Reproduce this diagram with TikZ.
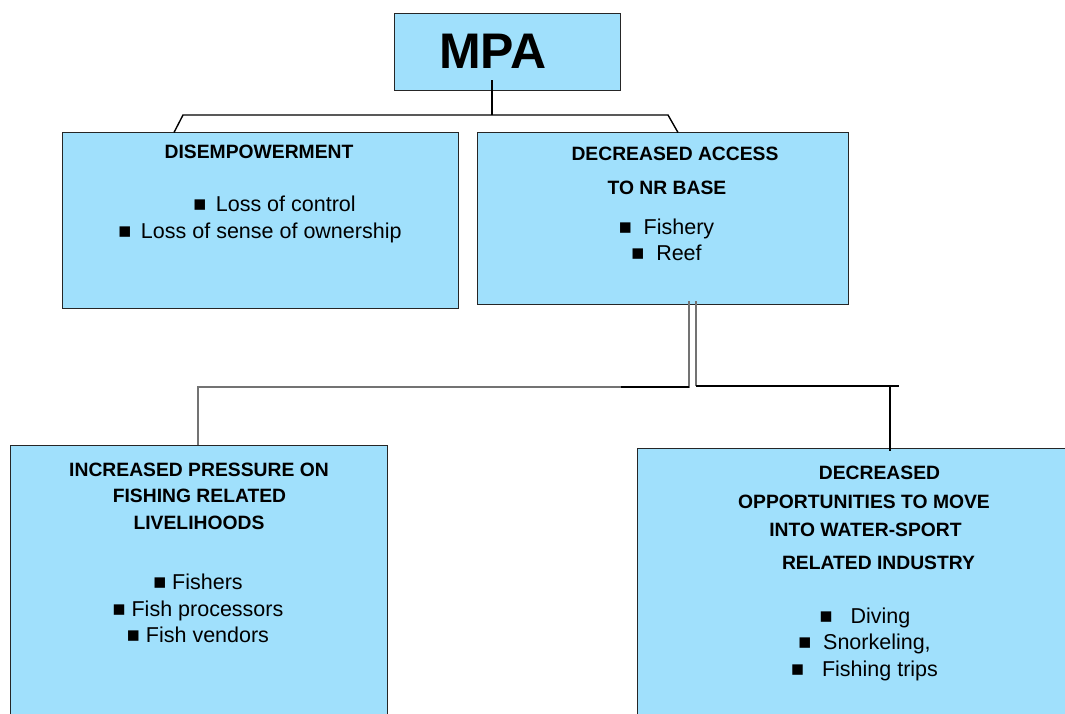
\documentclass[tikz,border=0pt]{standalone}
\usepackage{fontspec}
\setmainfont{Liberation Sans}
\definecolor{boxblue}{RGB}{160,224,252}
\begin{document}
\begin{tikzpicture}[x=1pt,y=-1pt,
  box/.style={draw=black!85,line width=1pt,fill=boxblue,rectangle,inner sep=0pt},
  head/.style={anchor=base,inner sep=0pt,font=\fontsize{19.3}{21}\selectfont\bfseries},
  item/.style={anchor=base,inner sep=0pt,font=\fontsize{21.5}{23}\selectfont},
  conn/.style={line width=1.4pt,black},
  gconn/.style={line width=1.2pt,black!55}]
\useasboundingbox (0,0) rectangle (1065,713);
\clip (0,0) rectangle (1065,713);
% boxes
\node[box,minimum width=226pt,minimum height=77pt] (mpa) at (507,51.5) {};
\node[box,minimum width=396pt,minimum height=176pt] (dis) at (260,220) {};
\node[box,minimum width=371pt,minimum height=172pt] (acc) at (662.5,218) {};
\node[box,minimum width=377pt,minimum height=280pt] (pre) at (198.5,585) {};
\node[box,minimum width=432pt,minimum height=280pt] (opp) at (853,588) {};
% texts
\node[anchor=base,inner sep=0pt,font=\fontsize{50}{52}\selectfont\bfseries] (mpat) at (493,68) {MPA};
\node[head] (dis1) at (259,158) {DISEMPOWERMENT};
\node[item] (dis2) at (274.5,211) {■ \,Loss of control};
\node[item] (dis3) at (260,238) {■ \,Loss of sense of ownership};
\node[head] (acc1) at (675,160) {DECREASED ACCESS};
\node[head] (acc2) at (667,194) {TO NR BASE};
\node[item] (acc3) at (666.5,234) {■ \ Fishery};
\node[item] (acc4) at (666.5,260) {■ \ Reef};
\node[head] (pre1) at (199,476) {INCREASED PRESSURE ON};
\node[head] (pre2) at (199.5,502) {FISHING RELATED};
\node[head] (pre3) at (199,529) {LIVELIHOODS};
\node[item] (pre4) at (198,589) {■ Fishers};
\node[item] (pre5) at (198,616) {■ Fish processors};
\node[item] (pre6) at (198,642) {■ Fish vendors};
\node[head] (opp1) at (879.5,479) {DECREASED};
\node[head] (opp2) at (864,508) {OPPORTUNITIES TO MOVE};
\node[head] (opp3) at (865.5,536) {INTO WATER-SPORT};
\node[head] (opp4) at (878.5,569) {RELATED INDUSTRY};
\node[item] (opp5) at (865,623) {■ \ \ Diving};
\node[item] (opp6) at (864.5,649) {■ \ Snorkeling,};
\node[item] (opp7) at (864.5,676) {■ \ \ Fishing trips};
% connectors
\coordinate (mpain) at (492,80);
\coordinate (hl) at (183,115);
\coordinate (hr) at (668,115);
\coordinate (dtop) at (174,132.5);
\coordinate (atop) at (678,132.5);
\draw[conn] (mpain) -- (mpain |- hl);
\draw[conn] (dtop) -- (hl) -- (hr) -- (atop);
\coordinate (a1) at (689,301);
\coordinate (a2) at (696,301);
\coordinate (c1) at (689,387);
\coordinate (c2) at (696,386);
\coordinate (cm) at (621,387);
\coordinate (pl) at (198,387);
\coordinate (ptop) at (198,445);
\coordinate (rend) at (899,386);
\coordinate (oj) at (890,386);
\coordinate (otop) at (890,451);
\draw[gconn] (a1) -- (c1) -- (pl) -- (ptop);
\draw[gconn] (a2) -- (c2);
\draw[conn] (c2) -- (rend);
\draw[conn] (oj) -- (otop);
\draw[conn] (c1) -- (cm);
\end{tikzpicture}
\end{document}
